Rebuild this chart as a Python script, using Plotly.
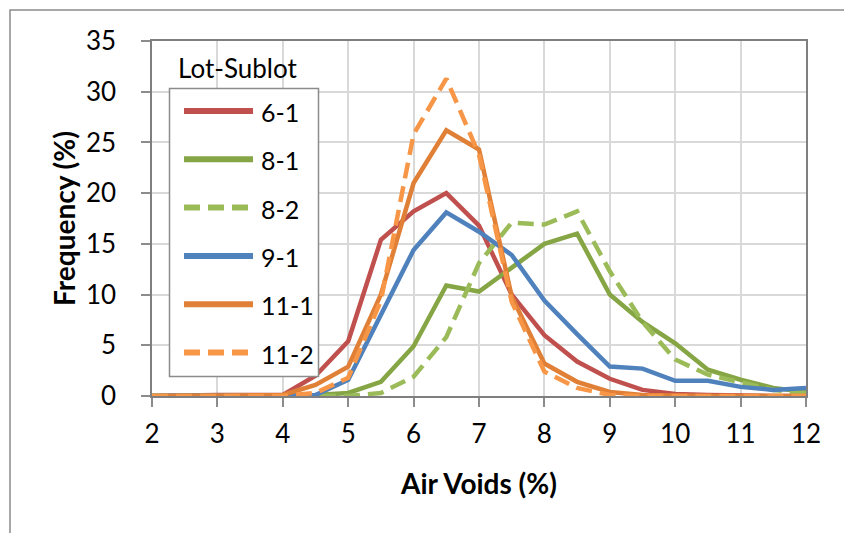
import plotly.graph_objects as go

# ---- data ----
air_voids = [2, 2.5, 3, 3.5, 4, 4.5, 5, 5.5, 6, 6.5, 7, 7.5, 8, 8.5, 9, 9.5, 10, 10.5, 11, 11.5, 12]

freq_6_1 = [0, 0.1, 0.1, 0.1, 0.1, 2.0, 5.4, 15.4, 18.2, 20.0, 16.8, 10.0, 6.0, 3.4, 1.7, 0.6, 0.2, 0.1, 0, 0, 0]
freq_8_1 = [0, 0, 0, 0, 0, 0.1, 0.3, 1.4, 4.9, 10.9, 10.3, 12.6, 15.0, 16.0, 10.0, 7.3, 5.2, 2.6, 1.6, 0.8, 0.4]
freq_8_2 = [0, 0, 0, 0, 0, 0, 0, 0.3, 1.9, 5.8, 13.1, 17.1, 16.9, 18.2, 12.3, 7.3, 3.6, 2.1, 1.3, 0.6, 0.3]
freq_9_1 = [0, 0, 0, 0, 0, 0.1, 1.6, 8.0, 14.4, 18.1, 16.2, 13.9, 9.4, 6.1, 2.9, 2.7, 1.5, 1.5, 0.9, 0.6, 0.8]
freq_11_1 = [0, 0, 0.05, 0.05, 0.1, 1.1, 2.9, 10.0, 21.0, 26.2, 24.3, 9.8, 3.2, 1.4, 0.4, 0.1, 0, 0, 0, 0, 0]
freq_11_2 = [0, 0, 0, 0, 0, 0.3, 1.8, 9.4, 25.8, 31.3, 23.8, 9.3, 2.4, 0.8, 0.1, 0, 0, 0, 0, 0, 0]

series_names = ["6-1", "8-1", "8-2", "9-1", "11-1", "11-2"]
series_values = [freq_6_1, freq_8_1, freq_8_2, freq_9_1, freq_11_1, freq_11_2]
series_colors = ["#C0504D", "#86A544", "#9BBB59", "#4F81BD", "#E07F36", "#F79646"]
series_dash = ["solid", "solid", "16px,8px", "solid", "solid", "16px,8px"]

x_ticks = [2, 3, 4, 5, 6, 7, 8, 9, 10, 11, 12]
y_ticks = [0, 5, 10, 15, 20, 25, 30, 35]

FONT = "Lato"
W, H = 844, 533
L, R, T, B = 152, 38, 41, 137
PW, PH = W - L - R, H - T - B


def px_x(p):
    return (p - L) / PW


def px_y(p):
    return (H - B - p) / PH


fig = go.Figure()
for name, vals, col, dash in zip(series_names, series_values, series_colors, series_dash):
    fig.add_trace(go.Scatter(
        x=air_voids, y=vals, mode="lines", name=name,
        line=dict(color=col, width=4.5, dash=dash),
        showlegend=False,
    ))

shapes = []
annotations = []

# outer chart frame (partially visible)
shapes.append(dict(type="rect", xref="paper", yref="paper",
                   x0=px_x(10), x1=px_x(900), y0=px_y(10), y1=px_y(600),
                   line=dict(color="#8C8C8C", width=1.5), layer="below"))

# legend box (manual)
shapes.append(dict(type="rect", xref="paper", yref="paper",
                   x0=px_x(169.5), x1=px_x(318.5), y0=px_y(88.5), y1=px_y(376.5),
                   line=dict(color="#8C8C8C", width=1.5), fillcolor="white", layer="above"))
annotations.append(dict(text="Lot-Sublot", xref="paper", yref="paper",
                        x=px_x(176), y=px_y(68), xanchor="left", yanchor="middle",
                        showarrow=False, font=dict(family=FONT, size=26, color="black")))
item_y0, item_gap = 111, 48.3
for i, (name, col, dash) in enumerate(zip(series_names, series_colors, series_dash)):
    yy = item_y0 + i * item_gap
    shapes.append(dict(type="line", xref="paper", yref="paper",
                       x0=px_x(184), x1=px_x(253), y0=px_y(yy), y1=px_y(yy),
                       line=dict(color=col, width=6, dash=dash), layer="above"))
    annotations.append(dict(text=name, xref="paper", yref="paper",
                            x=px_x(259), y=px_y(yy + 1), xanchor="left", yanchor="middle",
                            showarrow=False, font=dict(family=FONT, size=25, color="black")))

fig.update_layout(
    width=W, height=H,
    margin=dict(l=L, r=R, t=T, b=B),
    paper_bgcolor="white", plot_bgcolor="white",
    font=dict(family=FONT, color="black"),
    shapes=shapes, annotations=annotations,
    xaxis=dict(
        range=[2, 12], tickvals=x_ticks, ticktext=[str(v) for v in x_ticks],
        showgrid=True, gridcolor="#D9D9D9", gridwidth=1.5,
        showline=True, linecolor="#7F7F7F", linewidth=1.5, mirror=True,
        ticks="outside", ticklen=9, tickcolor="#8C8C8C", tickwidth=1.5,
        tickfont=dict(family=FONT, size=26, color="black"),
        ticklabelstandoff=5,
        zeroline=False,
        title=dict(text="<b>Air Voids (%)</b>", font=dict(family=FONT, size=28, color="black"), standoff=26),
    ),
    yaxis=dict(
        range=[0, 35], tickvals=y_ticks, ticktext=[str(v) for v in y_ticks],
        showgrid=True, gridcolor="#D9D9D9", gridwidth=1.5,
        showline=True, linecolor="#7F7F7F", linewidth=1.5, mirror=True,
        ticks="outside", ticklen=9, tickcolor="#8C8C8C", tickwidth=1.5,
        tickfont=dict(family=FONT, size=26, color="black"),
        ticklabelstandoff=20,
        zeroline=False,
        title=dict(text="<b>Frequency (%)</b>", font=dict(family=FONT, size=28, color="black"), standoff=2),
    ),
)

fig.write_html("out.html")
